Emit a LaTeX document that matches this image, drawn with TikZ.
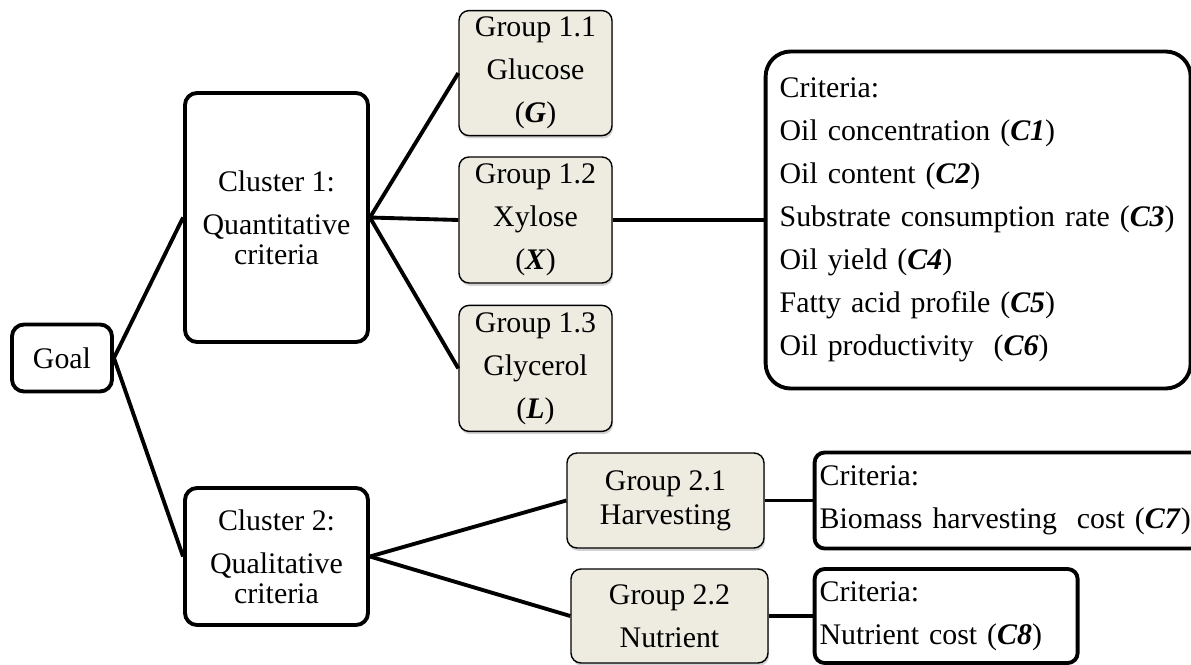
\documentclass[tikz,border=0pt]{standalone}
\usepackage{fontspec}
\setmainfont{Liberation Serif}
\usetikzlibrary{positioning,shadows}

\definecolor{groupfill}{RGB}{238,236,225}
\newcommand{\crit}[1]{\textbf{\textit{#1}}}

\tikzset{
  basebox/.style={draw=black, align=center, inner sep=0pt,
    font=\fontsize{17}{24.5}\selectfont},
  mainbox/.style={basebox, fill=white, line width=2.2pt, rounded corners=0.24cm},
  groupbox/.style={basebox, fill=groupfill, line width=0.8pt, rounded corners=0.2cm,
    drop shadow={shadow xshift=0.6pt, shadow yshift=-1.6pt, opacity=0.35}},
  critbox/.style={draw=black, fill=white, align=left, line width=2.2pt,
    inner ysep=0pt, rounded corners=0.2cm, font=\fontsize{17}{24.5}\selectfont},
  link/.style={line width=2.2pt}
}

\begin{document}
\begin{tikzpicture}
    \useasboundingbox (0,0) rectangle (23.82,-13.28);

    \node[mainbox, minimum width=2cm, minimum height=1.34cm] (goal) at (1.24,-7.16) {Goal};
    \node[mainbox, minimum width=3.66cm, minimum height=4.98cm] (cl1) at (5.53,-4.35)
      {Cluster 1:\\ Quantitative\\[-7.5pt] criteria};
    \node[mainbox, minimum width=3.66cm, minimum height=2.74cm] (cl2) at (5.53,-11.13)
      {Cluster 2:\\ Qualitative\\[-7.5pt] criteria};

    \node[groupbox, minimum width=3.06cm, minimum height=2.52cm] (g12) at (10.71,-4.40)
      {Group 1.2\\ Xylose\\ (\crit{X})};
    \node[groupbox, minimum width=3.06cm, minimum height=2.5cm] (g11) [above=0.4cm of g12]
      {Group 1.1\\ Glucose\\ (\crit{G})};
    \node[groupbox, minimum width=3.06cm, minimum height=2.52cm] (g13) [below=0.42cm of g12]
      {Group 1.3\\ Glycerol\\ (\crit{L})};

    \node[groupbox, minimum width=3.94cm, minimum height=1.9cm] (g21) at (13.31,-10.01)
      {Group 2.1\\[-5.2pt] Harvesting};
    \node[groupbox, minimum width=3.94cm, minimum height=1.88cm] (g22) at (13.39,-12.32)
      {Group 2.2\\ Nutrient};

    \node[critbox, rounded corners=0.5cm, inner xsep=0.28cm, text width=7.94cm,
      minimum height=6.74cm] (cr1) [right=3.02cm of g12]
      {Criteria:\\
       Oil concentration (\crit{C1})\\
       Oil content (\crit{C2})\\
       Substrate consumption rate (\crit{C3})\\
       Oil yield (\crit{C4})\\
       Fatty acid profile (\crit{C5})\\
       Oil productivity~ (\crit{C6})};
    \node[critbox, inner xsep=0.1cm, text width=7.76cm, minimum height=1.92cm] (cr2)
      [right=0.96cm of g21]
      {Criteria:\\ Biomass harvesting~ cost (\crit{C7})};
    \node[critbox, inner xsep=0.1cm, text width=5.06cm, minimum height=1.88cm] (cr3)
      [right=0.88cm of g22]
      {Criteria:\\ Nutrient cost (\crit{C8})};

    \path[link]
      (goal.east) edge (cl1.west)
      (goal.east) edge (cl2.west)
      (cl1.east) edge (g11.west)
      (cl1.east) edge (g12.west)
      (cl1.east) edge (g13.west)
      (cl2.east) edge (g21.west)
      (cl2.east) edge (g22.west)
      (g12.east) edge (cr1.west)
      (g21.east) edge (cr2.west)
      (g22.east) edge (cr3.west);
\end{tikzpicture}
\end{document}
